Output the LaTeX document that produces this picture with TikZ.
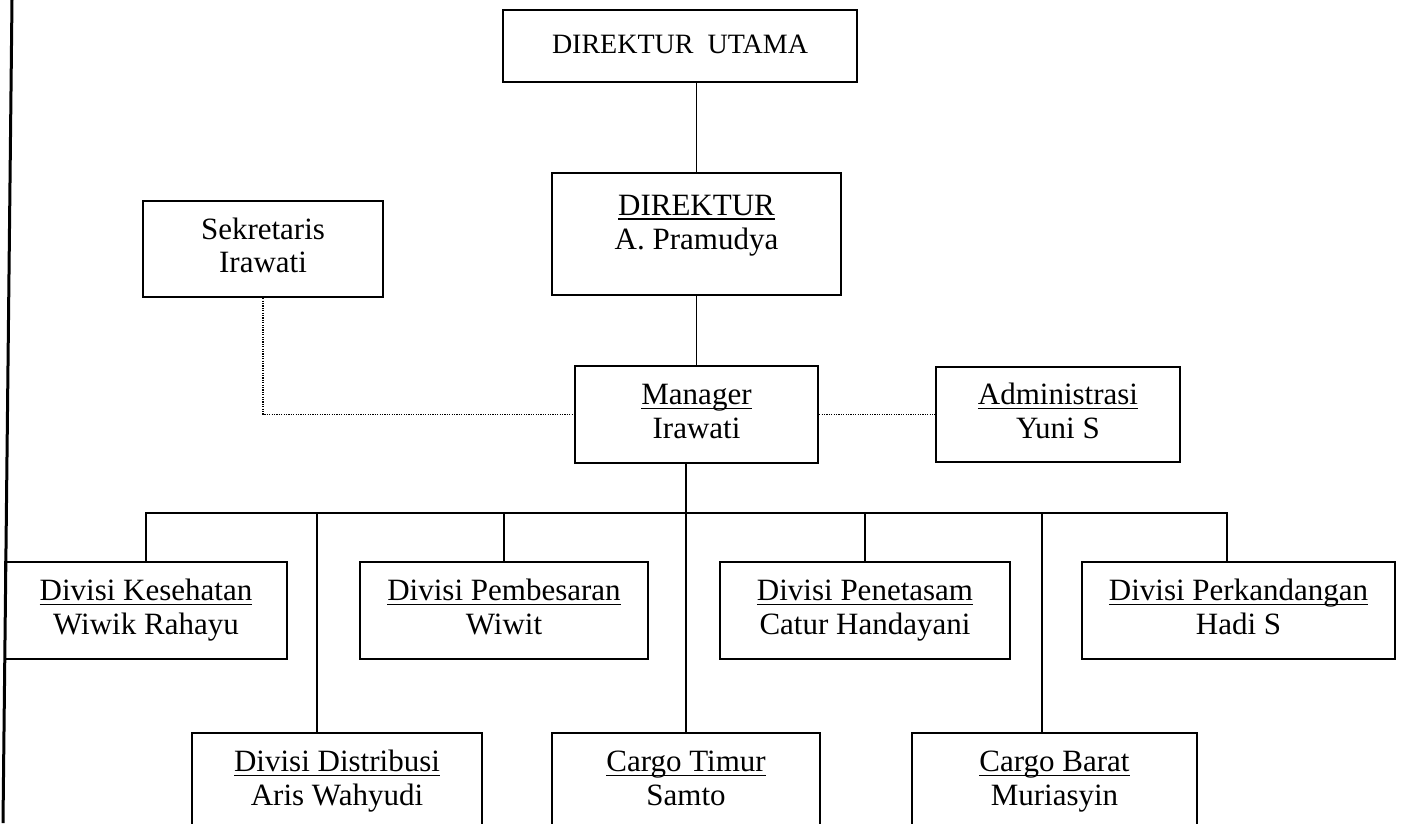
\documentclass[tikz,border=0pt]{standalone}
\usepackage{fontspec}
\setmainfont{Liberation Serif}
\newcommand\ulx[1]{\setbox0=\hbox{#1}\leavevmode\rlap{\raisebox{-4.5pt}{\rule{\wd0}{1.6pt}}}\box0}
\newcommand\toprow{\rule{0pt}{22pt}}
\newcommand\botrow{\rule[-8pt]{0pt}{8pt}}
\begin{document}
\begin{tikzpicture}[x=1pt,y=-1pt,
  box/.style={draw, line width=2.4pt, inner sep=0pt, align=center, font=\fontsize{31}{33.5}\selectfont},
  link/.style={line width=1.6pt},
  dotlink/.style={line width=1.2pt, dash pattern=on 1.2pt off 1.2pt}]
\useasboundingbox (0,0) rectangle (1403,823);
\clip (0,0) rectangle (1403,823);
% left border of the scanned page
\coordinate (bt) at (12,0);
\coordinate (bb) at (3,823);
\draw[line width=3pt] (bt) -- (bb);
% boxes
\node[box, minimum width=354pt, minimum height=72pt, font=\fontsize{28}{30}\selectfont] (du) at (680,46) {\toprow DIREKTUR\ \ UTAMA\botrow};
\node[box, minimum width=289pt, minimum height=122pt] (dir) at (696.5,234) {\toprow\ulx{DIREKTUR}\\A. Pramudya\botrow\\[-8pt]\mbox{}};
\node[box, minimum width=240pt, minimum height=96pt] (sek) at (263,249) {\toprow Sekretaris\\Irawati\botrow};
\node[box, minimum width=243pt, minimum height=97pt] (man) at (696.5,414.5) {\toprow\ulx{Manager}\\Irawati\botrow};
\node[box, minimum width=244pt, minimum height=95pt] (adm) at (1058,414.5) {\toprow\ulx{Administrasi}\\Yuni S\botrow};
\node[box, minimum width=282pt, minimum height=97pt] (kes) at (146,610.5) {\toprow\ulx{Divisi Kesehatan}\\Wiwik Rahayu\botrow};
\node[box, minimum width=288pt, minimum height=97pt] (pem) at (504,610.5) {\toprow\ulx{Divisi Pembesaran}\\Wiwit\botrow};
\node[box, minimum width=290pt, minimum height=97pt] (pen) at (865,610.5) {\toprow\ulx{Divisi Penetasam}\\Catur Handayani\botrow};
\node[box, minimum width=313pt, minimum height=97pt] (per) at (1238.5,610.5) {\toprow\ulx{Divisi Perkandangan}\\Hadi S\botrow};
\node[box, minimum width=290pt, minimum height=97pt] (dis) at (337,781.5) {\toprow\ulx{Divisi Distribusi}\\Aris Wahyudi\botrow};
\node[box, minimum width=268pt, minimum height=97pt] (ct) at (686,781.5) {\toprow\ulx{Cargo Timur}\\Samto\botrow};
\node[box, minimum width=285pt, minimum height=97pt] (cb) at (1054.5,781.5) {\toprow\ulx{Cargo Barat}\\Muriasyin\botrow};
% connectors
\coordinate (bus) at (0,513);
\draw[link] (dir.north |- du.south) -- (dir.north);
\draw[link] (dir.south) -- (man.north);
\draw[dotlink] (sek.south) |- (man.west);
\draw[dotlink] (man.east) -- (adm.west);
\draw[link] (ct.north |- man.south) -- (ct.north);
\draw[link] (kes.north) -- (kes.north |- bus) -- ([xshift=-11.5pt]per.north |- bus) -- ([xshift=-11.5pt]per.north);
\draw[link] (pem.north |- bus) -- (pem.north);
\draw[link] (pen.north |- bus) -- (pen.north);
\draw[link] ([xshift=-20pt]dis.north |- bus) -- ([xshift=-20pt]dis.north);
\draw[link] ([xshift=-12.5pt]cb.north |- bus) -- ([xshift=-12.5pt]cb.north);
\end{tikzpicture}
\end{document}
